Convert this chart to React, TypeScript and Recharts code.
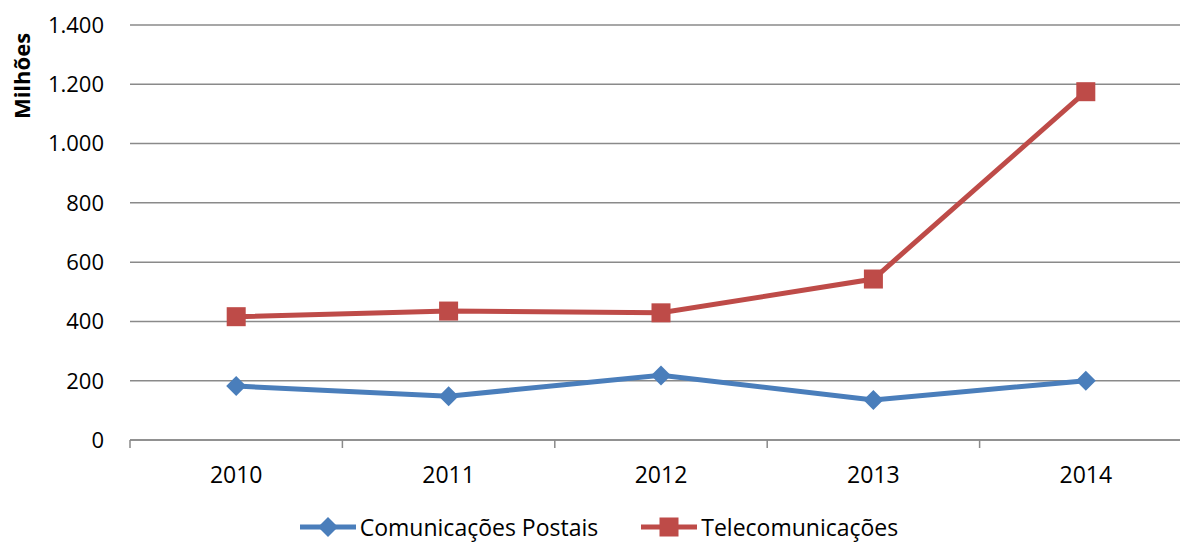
import { CartesianGrid, Legend, Line, LineChart, XAxis, YAxis } from 'recharts'

const years = ['2010', '2011', '2012', '2013', '2014']
const postais = [182, 148, 218, 135, 200]
const telecom = [416, 435, 429, 543, 1175]
const yTicks = [0, 200, 400, 600, 800, 1000, 1200, 1400]

const BLUE = '#4A7EBB'
const RED = '#BE4B48'
const GRID = '#8a8a8a'
const FONT = '"Open Sans", sans-serif'

const data = years.map((year, i) => ({
  year,
  postais: postais[i],
  telecom: telecom[i],
}))

// 1400 -> "1.400"
function fmt(v: number): string {
  return String(v).replace(/\B(?=(\d{3})+(?!\d))/g, '.')
}

function Diamond({ cx, cy, r = 10, fill }: { cx: number; cy: number; r?: number; fill: string }) {
  return <polygon points={`${cx},${cy - r} ${cx + r},${cy} ${cx},${cy + r} ${cx - r},${cy}`} fill={fill} />
}

function Square({ cx, cy, s = 19, fill }: { cx: number; cy: number; s?: number; fill: string }) {
  return <rect x={cx - s / 2} y={cy - s / 2} width={s} height={s} fill={fill} />
}

// Excel style: tick marks sit between categories, labels in the middle
function YearTick(props: any) {
  const { x, y, payload, width, visibleTicksCount } = props
  const half = width && visibleTicksCount ? width / visibleTicksCount / 2 : 106
  const axisY = y - 27
  return (
    <g>
      <line x1={x - half} x2={x - half} y1={axisY} y2={axisY + 8} stroke={GRID} strokeWidth={1.5} />
      <text x={x} y={y} dy="0.71em" textAnchor="middle" fontSize={23} fill="#000" fontFamily={FONT}>
        {payload.value}
      </text>
    </g>
  )
}

function LegendContent() {
  const items = [
    { name: 'Comunicações Postais', color: BLUE, kind: 'diamond' },
    { name: 'Telecomunicações', color: RED, kind: 'square' },
  ]
  return (
    <div style={{ display: 'flex', justifyContent: 'center', alignItems: 'center', gap: 43, paddingLeft: 6 }}>
      {items.map((it) => (
        <div key={it.name} style={{ display: 'flex', alignItems: 'center' }}>
          <svg width={56} height={24} style={{ marginRight: 4 }}>
            <line x1={0} x2={56} y1={12} y2={12} stroke={it.color} strokeWidth={5} strokeLinecap="round" />
            {it.kind === 'diamond' ? (
              <Diamond cx={28} cy={12} r={10} fill={it.color} />
            ) : (
              <Square cx={28} cy={12} s={19} fill={it.color} />
            )}
          </svg>
          <span style={{ fontSize: 23, color: '#000', fontFamily: FONT, lineHeight: '32px' }}>{it.name}</span>
        </div>
      ))}
    </div>
  )
}

export default function App() {
  return (
    <div style={{ position: 'absolute', left: 0, top: 0, width: 1180, height: 543, overflow: 'hidden', background: '#fff', fontFamily: FONT }}>
      <LineChart width={1200} height={543} data={data} margin={{ top: 25, right: 8, left: 0, bottom: 0 }}>
        <CartesianGrid vertical={false} stroke={GRID} strokeWidth={1.5} />
        <XAxis
          dataKey="year"
          scale="band"
          interval={0}
          height={71}
          axisLine={{ stroke: GRID, strokeWidth: 1.5 }}
          tickLine={false}
          tickSize={8}
          tickMargin={19}
          tick={<YearTick />}
        />
        <YAxis
          width={130}
          domain={[0, 1400]}
          ticks={yTicks}
          interval={0}
          axisLine={false}
          tickLine={false}
          tickSize={0}
          tickMargin={26}
          tickFormatter={fmt}
          tick={{ fill: '#000', fontSize: 22, fontFamily: FONT }}
          label={{
            content: (p: any) => {
              const vb = p.viewBox || { x: 0, y: 25 }
              const cx = vb.x + 21
              const cy = vb.y + 51
              return (
                <text
                  x={cx}
                  y={cy}
                  transform={`rotate(-90 ${cx} ${cy})`}
                  textAnchor="middle"
                  dominantBaseline="central"
                  fontSize={22}
                  fontWeight="bold"
                  fill="#000"
                  fontFamily={FONT}
                >
                  Milhões
                </text>
              )
            },
          }}
        />
        <Legend verticalAlign="bottom" height={32} content={<LegendContent />} />
        <Line
          dataKey="postais"
          name="Comunicações Postais"
          type="linear"
          stroke={BLUE}
          strokeWidth={5}
          isAnimationActive={false}
          activeDot={false}
          dot={(p: any) => <Diamond key={p.index} cx={p.cx} cy={p.cy} r={10} fill={BLUE} />}
        />
        <Line
          dataKey="telecom"
          name="Telecomunicações"
          type="linear"
          stroke={RED}
          strokeWidth={5}
          isAnimationActive={false}
          activeDot={false}
          dot={(p: any) => <Square key={p.index} cx={p.cx} cy={p.cy} s={19} fill={RED} />}
        />
      </LineChart>
    </div>
  )
}
